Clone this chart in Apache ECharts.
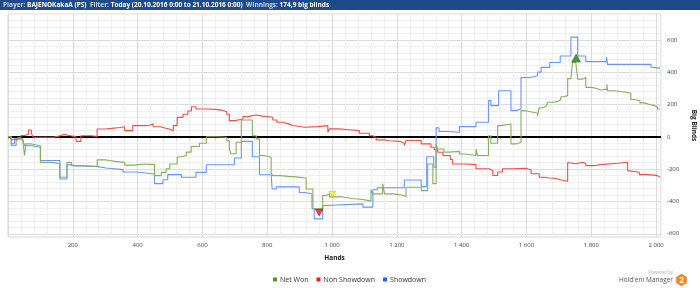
<!DOCTYPE html>
<html><head><meta charset="utf-8">
<script src="https://cdn.jsdelivr.net/npm/echarts@6/dist/echarts.min.js"></script>
<style>html,body{margin:0;padding:0;background:#fff}#c{width:700px;height:288px}</style>
</head><body><div id="c"></div>
<script>
// ---------- data ----------
const seriesNames = ['Net Won', 'Non Showdown', 'Showdown'];

const netWonHands  = [0,10,25,45,51,55,72,100,130,160,182,196,210,275,303,330,360,390,420,452,473,488,499,522,530,550,565,591,612,643,675,683,688,704,720,754,766,776,790,812,817,840,865,889,920,941,971,982,992,1033,1060,1095,1120,1126,1156,1162,1190,1218,1228,1275,1295,1311,1321,1326,1345,1362,1393,1413,1444,1449,1483,1490,1511,1521,1552,1568,1583,1595,1604,1620,1634,1639,1650,1660,1665,1680,1695,1706,1716,1727,1737,1742,1752,1758,1773,1783,1800,1814,1830,1848,1850,1870,1890,1907,1922,1932,1950,1963,1980,1994,2004,2012];
const netWonValues = [0,-55,-13,-3,-116,-44,-55,-158,-165,-250,-158,-178,-184,-143,-152,-158,-175,-168,-172,-240,-220,-198,-168,-125,-116,-95,-60,-40,0,-3,-25,-75,-105,-34,104,7,-13,-116,-126,-225,-240,-245,-248,-255,-323,-445,-363,-353,-372,-382,-388,-398,-328,-353,-290,-353,-362,-370,-312,-333,-168,-290,-44,-75,-95,-90,-106,-116,-75,-116,7,-40,69,79,-44,-34,162,158,152,146,131,180,188,200,214,218,230,248,255,360,367,460,470,357,367,306,300,290,295,326,285,280,276,270,231,223,210,200,193,185,172,168];

const nonShowdownHands  = [0,8,18,30,40,52,63,72,78,120,142,160,175,185,210,225,258,275,300,320,345,360,385,420,437,448,470,490,500,510,522,540,555,566,580,610,640,660,675,683,700,710,725,740,766,786,817,830,848,865,879,915,920,956,987,992,1020,1054,1084,1115,1126,1136,1160,1177,1208,1223,1228,1275,1305,1315,1326,1342,1365,1372,1413,1444,1485,1496,1511,1526,1560,1598,1614,1639,1655,1670,1691,1705,1715,1727,1732,1752,1773,1783,1810,1830,1881,1912,1917,1948,1970,1994,2004,2012];
const nonShowdownValues = [0,-15,-20,-5,8,18,42,20,-3,-2,6,15,10,0,-28,7,2,48,52,58,62,38,69,72,80,62,52,47,38,69,120,140,160,186,172,170,165,155,140,100,104,110,125,135,128,121,104,90,80,70,59,49,63,69,28,49,44,38,22,7,-5,-19,-24,-28,-40,-54,-23,-44,-65,-80,-96,-116,-140,-168,-172,-198,-210,-239,-218,-198,-195,-205,-229,-250,-255,-258,-266,-270,-275,-159,-167,-157,-165,-178,-172,-164,-157,-209,-219,-234,-237,-240,-250,-252];

const showdownHands  = [0,10,20,45,51,72,100,160,182,192,210,272,303,355,396,452,478,493,535,580,612,699,720,754,776,812,815,828,899,915,938,945,971,982,1095,1126,1140,1223,1275,1292,1314,1321,1330,1357,1393,1444,1483,1490,1514,1552,1568,1583,1610,1634,1645,1672,1704,1737,1758,1783,1847,1850,1984,1989,2012];
const showdownValues = [0,-44,-13,-5,-55,-65,-147,-261,-172,-180,-183,-193,-203,-218,-230,-290,-266,-234,-250,-220,-173,-131,-28,-123,-235,-240,-323,-310,-345,-352,-445,-508,-425,-415,-435,-328,-315,-267,-308,-123,-188,55,33,28,63,90,224,193,285,162,172,367,378,400,430,460,500,617,500,465,492,448,430,425,425];

const markerHands  = [960, 1001, 1753];
const markerValues = [-469, -355, 487];

const xTickLabels = [200,400,600,800,1000,1200,1400,1600,1800,2000];
const yTickLabels = [-600,-400,-200,0,200,400,600];

// ---------- chart ----------
const FONT = '"Open Sans", "Noto Sans", sans-serif';
const zip = (xs, ys) => xs.map((x, i) => [x, ys[i]]);
const fmtThousands = v => v >= 1000 ? Math.floor(v / 1000) + ' ' + String(v % 1000).padStart(3, '0') : String(v);

const MINOR = '#efefef', MAJOR = '#dcdcdc', NONE = 'rgba(0,0,0,0)';

const markerStyles = [
  {symbol: 'triangle', symbolRotate: 180, symbolSize: [8, 7], itemStyle: {color: '#e8101a', borderColor: '#a00', borderWidth: 0.5}},
  {symbol: 'triangle', symbolRotate: 180, symbolSize: [7, 6], itemStyle: {color: '#f4f02a', borderColor: '#bba800', borderWidth: 0.5}},
  {symbol: 'triangle', symbolRotate: 0, symbolSize: [9, 8], itemStyle: {color: '#1f7a12', borderColor: '#0d5a05', borderWidth: 0.5}}
];

const hex = [];
for (let k = 0; k < 6; k++) {
  const a = (-90 + 60 * k) * Math.PI / 180;
  hex.push([681.5 + 6.2 * Math.cos(a), 280 + 6.2 * Math.sin(a)]);
}

const option = {
  animation: false,
  textStyle: {fontFamily: FONT},
  title: {
    text: '{l|Player:} {b|BAJENOKakaA (PS)}  {l|Filter:} {b|Today (20.10.2016 0:00 to 21.10.2016 0:00)}  {l|Winnings:} {b|174,9 big blinds}',
    left: 3, top: 1.2, padding: 0,
    textStyle: {
      fontSize: 6.5, color: '#fff', fontFamily: FONT,
      rich: {
        l: {fontSize: 6.5, color: '#c9d6ea', fontFamily: FONT},
        b: {fontSize: 6.5, color: '#ffffff', fontWeight: 'bold', fontFamily: FONT}
      }
    }
  },
  graphic: [
    {type: 'rect', z: -10, shape: {x: 0, y: 0, width: 700, height: 10}, style: {fill: '#1d4b8a'}},
    {type: 'text', x: 673, y: 273, style: {text: 'Powered by', fontSize: 4.5, fill: '#b0b0b0', align: 'right', verticalAlign: 'middle', fontFamily: FONT}},
    {type: 'text', x: 673, y: 280.5, style: {text: "Hold'em Manager", fontSize: 6.5, fill: '#555', align: 'right', verticalAlign: 'middle', fontFamily: FONT}},
    {type: 'polygon', shape: {points: hex}, style: {fill: '#f08a24'}},
    {type: 'text', x: 681.5, y: 280.3, style: {text: '2', fontSize: 8, fontWeight: 'bold', fill: '#fff', align: 'center', verticalAlign: 'middle', fontFamily: FONT}}
  ],
  legend: {
    data: seriesNames, left: 273, top: 276, padding: 0,
    icon: 'rect', itemWidth: 4, itemHeight: 4, itemGap: 8,
    textStyle: {fontSize: 7, color: '#333', fontFamily: FONT, padding: [0, 0, 0, -2]}
  },
  grid: {left: 8, right: 39, top: 14, bottom: 51, show: true, borderColor: '#d6d6d6', borderWidth: 1, containLabel: false, outerBoundsMode: 'none'},
  xAxis: {
    type: 'value', min: 0, max: 2015, interval: 40,
    name: 'Hands', nameLocation: 'middle', nameGap: 18,
    nameTextStyle: {fontSize: 6.5, fontWeight: 'bold', color: '#222', fontFamily: FONT},
    axisLine: {show: false},
    axisTick: {show: true, length: 3, lineStyle: {color: '#d0d0d0'}},
    axisLabel: {fontSize: 6, color: '#444', margin: 5, fontFamily: FONT,
      formatter: v => xTickLabels.includes(v) ? fmtThousands(v) : ''},
    splitLine: {show: true, lineStyle: {width: 1, color: [MAJOR, MINOR, MINOR, MINOR, MINOR]}}
  },
  yAxis: {
    type: 'value', position: 'right', min: -620, max: 760, interval: 20,
    name: 'Big Blinds', nameLocation: 'middle', nameGap: 21, nameRotate: -90,
    nameTextStyle: {fontSize: 6.5, fontWeight: 'bold', color: '#222', fontFamily: FONT},
    axisLine: {show: false}, axisTick: {show: false},
    axisLabel: {fontSize: 6, color: '#444', margin: 6, fontFamily: FONT, align: 'left',
      formatter: v => yTickLabels.includes(v) ? String(v) : ''},
    splitLine: {show: true, lineStyle: {width: 1, color: [NONE, MAJOR, NONE, MINOR, NONE, MINOR, NONE, MINOR, NONE, MINOR]}}
  },
  series: [
    {name: 'Showdown', type: 'line', step: 'end', data: zip(showdownHands, showdownValues), symbol: 'none', z: 2,
      itemStyle: {color: '#2a5cf2'}, lineStyle: {color: '#6f93f3', width: 1.1}},
    {name: 'Non Showdown', type: 'line', step: 'end', data: zip(nonShowdownHands, nonShowdownValues), symbol: 'none', z: 2,
      itemStyle: {color: '#ee1c1c'}, lineStyle: {color: '#f14c4c', width: 1.1}},
    {name: 'Net Won', type: 'line', step: 'end', data: zip(netWonHands, netWonValues), symbol: 'none', z: 3,
      itemStyle: {color: '#4d9a28'}, lineStyle: {color: '#86ad62', width: 1.1},
      markLine: {silent: true, symbol: 'none', label: {show: false}, z: 1,
        lineStyle: {color: '#000', width: 2, type: 'solid'}, data: [{yAxis: 0}]}},
    {name: 'markers', type: 'scatter', z: 5, silent: true,
      data: markerHands.map((x, i) => Object.assign({value: [x, markerValues[i]]}, markerStyles[i]))}
  ]
};
const chart = echarts.init(document.getElementById('c'));
chart.setOption(option);
</script>
</body></html>
